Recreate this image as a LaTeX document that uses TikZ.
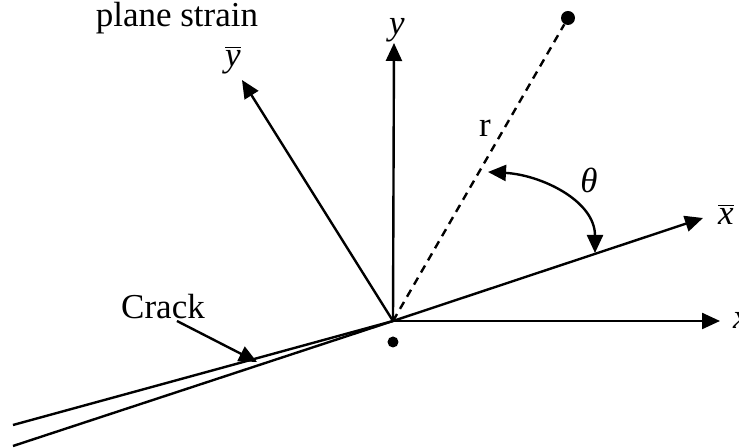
\documentclass[tikz,border=0pt]{standalone}
\usepackage{fontspec}
\setmainfont{Liberation Serif}
\usetikzlibrary{arrows.meta}
\begin{document}
\begin{tikzpicture}[
    x=0.5pt,y=0.5pt,
    font=\fontsize{17.5}{21}\selectfont,
    asse/.style={line width=1.2pt,-{Triangle[length=9pt,width=8pt]}},
    linea/.style={line width=1.2pt},
    tratteggio/.style={line width=1.2pt,dash pattern=on 4pt off 3pt},
    punto/.style={circle,fill=black,inner sep=0pt,minimum size=#1}]

  \useasboundingbox (-393,-127) rectangle (346,321);

  % ---- origine e punti ------------------------------------------------------
  \coordinate (O) at (0,0);
  \node[punto=7pt]   (P) at (175,303) {};
  \node[punto=5.5pt] (Q) at (0,-21)   {};

  % ---- assi x, y e assi ruotati ---------------------------------------------
  \coordinate (xt)  at (327,0);
  \coordinate (yt)  at (1,278);
  \coordinate (xbt) at (310,103);
  \coordinate (ybt) at (-151,241);
  \draw[asse] (O) -- (xt);
  \draw[asse] (O) -- (yt);
  \draw[asse] (O) -- (xbt);
  \draw[asse] (O) -- (ybt);
  \node[anchor=west]  (lx)  at (333,1)     {\textit{x}};
  \node               (ly)  at (4,291)     {\textit{y}};
  \node               (lxb) at (333,107)   {$\overline{\textit{x}}$};
  \node               (lyb) at (-160,261)  {$\overline{\textit{y}}$};

  % ---- raggio r e angolo theta ---------------------------------------------
  \draw[tratteggio] (O) -- (P);
  \node (lr) at (92,193) {r};
  \coordinate (ta) at (95,149);
  \coordinate (tb) at (202,68);
  \draw[line width=1.2pt,{Triangle[length=9pt,width=8pt]}-{Triangle[length=9pt,width=8pt]}]
        (ta) to[out=-3,in=90] (tb);
  \node (lt) at (196,141) {\textit{θ}};

  % ---- fessura ---------------------------------------------------------------
  \coordinate (c1) at (-380,-104);
  \coordinate (c2) at (-380,-125);
  \draw[linea] (O) -- (c1);
  \draw[linea] (O) -- (c2);
  \node (lc) at (-230,14) {Crack};
  \coordinate (cs) at (-216,0);
  \coordinate (ct) at (-136,-41);
  \draw[asse] (cs) -- (ct);

  % ---- titolo ----------------------------------------------------------------
  \node (tit) at (-216,303) {plane strain};

\end{tikzpicture}
\end{document}
